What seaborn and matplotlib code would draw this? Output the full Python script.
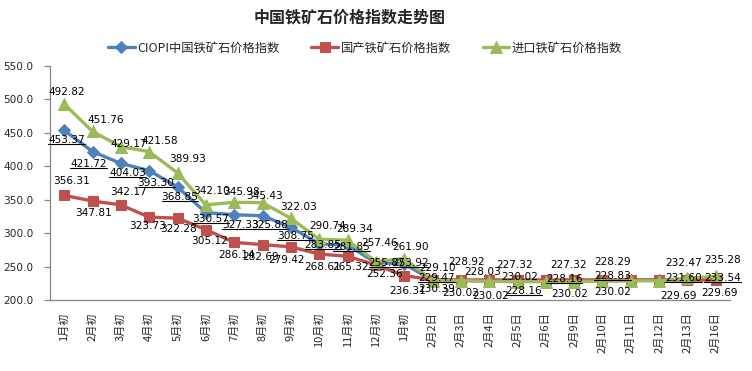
import numpy as np
import pandas as pd
import matplotlib
matplotlib.use('Agg')
import matplotlib.pyplot as plt
import seaborn as sns
from matplotlib.lines import Line2D

# categories and index values
categories = ['1月初', '2月初', '3月初', '4月初', '5月初', '6月初', '7月初', '8月初',
              '9月初', '10月初', '11月初', '12月初', '1月初', '2月2日', '2月3日',
              '2月4日', '2月5日', '2月6日', '2月9日', '2月10日', '2月11日',
              '2月12日', '2月13日', '2月16日']
ciopi = [453.37, 421.72, 404.03, 393.30, 368.85, 330.57, 327.33, 325.88, 308.75,
         283.85, 281.85, 255.87, 253.92, 229.47, 229.00, 228.60, 228.16, 228.30,
         228.16, 228.83, 229.30, 230.00, 231.60, 233.54]
domestic = [356.31, 347.81, 342.17, 323.73, 322.28, 305.12, 286.14, 282.69, 279.42,
            268.61, 265.32, 252.36, 236.31, 230.39, 230.02, 230.02, 230.02, 230.02,
            230.02, 230.02, 230.02, 230.02, 229.69, 229.69]
imported = [492.82, 451.76, 429.17, 421.58, 389.93, 342.10, 345.98, 345.43, 322.03,
            290.74, 289.34, 257.46, 261.90, 229.10, 228.92, 228.03, 227.32, 227.50,
            227.32, 228.29, 228.50, 228.80, 232.47, 235.28]
names = ['CIOPI中国铁矿石价格指数', '国产铁矿石价格指数', '进口铁矿石价格指数']

# label offsets in pixels (dx, dy downwards); None = no label shown
ciopi_off = [(2.5, 10), (-4, 12.5), (7, 10), (7, 12), (2.5, 10), (5, 6), (6, 10), (7.5, 9),
             (5, 9), (4, 1), (4, 2), (11, 0), (6, -1), (4, -2), None, None, (6, 10), None,
             (-10, -2), (10, -5), None, None, (-4, -1), (7, 0)]
domestic_off = [(7, -14), (1, 12), (7.5, -13), (-1.5, 8.5), (1, 11), (4, 11), (2, 13), (-2, 12.5),
                (-4, 13), (3, 13), (3, 11), (9, 9), (3, 15), (4, 9), (0, 13), (2, 16), (2, -3), None,
                (-4, 14), (10, 12), None, None, (-9, 16), (4, 13)]
imported_off = [(2.5, -12), (13, -11.5), (7.5, -2.6), (11, -11), (10, -14), (6, -14), (7.5, -10),
                (2.5, -7), (8, -11), (8, -13), (7.5, -11), (4, -18.5), (6, -11.6), (5, -13), (6, -19),
                (-6, -9), (-3, -17), None, (-6, -17), (10, -19), None, None, (-4, -15), (7, -16)]

df = pd.DataFrame({'idx': np.arange(len(categories)), 'cat': categories,
                   'ciopi': ciopi, 'domestic': domestic, 'imported': imported})

sns.set_theme(style='white')
plt.rcParams['font.family'] = ['Noto Sans CJK SC', 'DejaVu Sans']

W, H = 752, 371
fig = plt.figure(figsize=(W / 100, H / 100), dpi=100)
ax = fig.add_axes([50 / W, 71 / H, 680 / W, (300 - 65.7) / H])

styles = [('ciopi', '#4F81BD', 'D', 6.5), ('domestic', '#C0504D', 's', 7.5), ('imported', '#9BBB59', '^', 8)]
for (col, color, mk, ms), name in zip(styles, names):
    sns.lineplot(data=df, x='idx', y=col, color=color, marker=mk, markersize=ms,
                 markeredgecolor=color, linewidth=2.4, label=name, ax=ax)

handles, labels = ax.get_legend_handles_labels()
ax.get_legend().remove()

ax.set_xlim(-0.5, len(categories) - 0.5)
ax.set_ylim(200, 550)
ax.set_yticks(np.arange(200, 551, 50))
ax.set_yticklabels(['%.1f' % v for v in np.arange(200, 551, 50)], family='DejaVu Sans', fontsize=7.6)
ax.set_xticks(df['idx'])
ax.set_xticklabels(categories, rotation=90, fontsize=8, va='top', ha='center')
ax.set_xticks(np.arange(-0.5, len(categories), 1), minor=True)
ax.tick_params(axis='x', which='major', length=0, pad=9)
ax.tick_params(axis='x', which='minor', length=48, color='#868686', width=0.9, direction='out')
ax.tick_params(axis='y', length=4, color='#868686', width=0.9, direction='out', left=True, pad=8)
ax.set_xlabel('')
ax.set_ylabel('')
for s in ['top', 'right']:
    ax.spines[s].set_visible(False)
for s in ['left', 'bottom']:
    ax.spines[s].set_color('#868686')
    ax.spines[s].set_linewidth(0.9)

# data labels
blue_texts = []
for vals, offs, col in [(ciopi, ciopi_off, 'ciopi'), (domestic, domestic_off, 'domestic'),
                        (imported, imported_off, 'imported')]:
    for i, (v, o) in enumerate(zip(vals, offs)):
        if o is None:
            continue
        t = ax.annotate('%.2f' % v, (i, v), xytext=(o[0], -o[1]), textcoords='offset pixels',
                        ha='center', va='center', fontsize=7.6, family='DejaVu Sans', color='black')
        if col == 'ciopi':
            blue_texts.append(t)

fig.text(350 / W, 1 - 17 / H, '中国铁矿石价格指数走势图', ha='center', va='center',
         fontsize=11.5, fontweight='bold')
fig.legend(handles, labels, loc='center', bbox_to_anchor=(365 / W, 1 - 48 / H), ncol=3,
           frameon=False, fontsize=8.8, handlelength=2.2, columnspacing=2.6, handletextpad=0.2)

# underline under CIOPI labels
fig.canvas.draw()
r = fig.canvas.get_renderer()
for t in blue_texts:
    bb = t.get_window_extent(r)
    y = bb.y0 + 1
    fig.add_artist(Line2D([bb.x0 / W, bb.x1 / W], [y / H, y / H], transform=fig.transFigure,
                          color='black', linewidth=0.8))

fig.savefig('out.png', dpi=100)
